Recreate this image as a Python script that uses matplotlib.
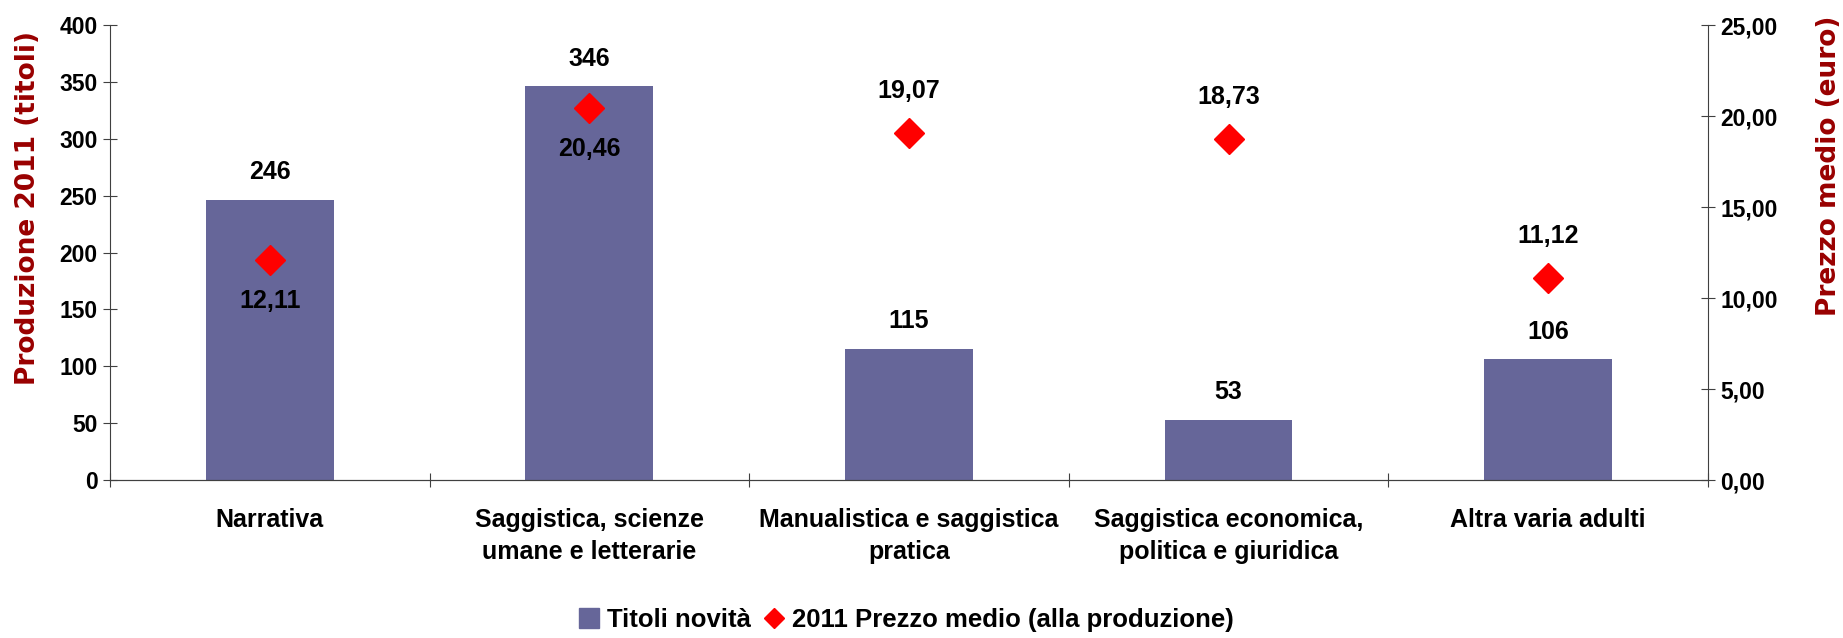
import matplotlib.pyplot as plt
import numpy as np
from matplotlib.ticker import FixedLocator, FuncFormatter

# Dati
categorie = ['Narrativa', 'Saggistica, scienze\numane e letterarie',
             'Manualistica e saggistica\npratica', 'Saggistica economica,\npolitica e giuridica',
             'Altra varia adulti']
titoli = [246, 346, 115, 53, 106]
prezzi = [12.11, 20.46, 19.07, 18.73, 11.12]
# posizione etichetta prezzo: sotto (-1) o sopra (+1) il marker
pos_prezzo = [-1, -1, 1, 1, 1]

bar_color = '#666699'
red_dark = '#990000'
plt.rcParams['font.family'] = ['Liberation Sans', 'DejaVu Sans']
plt.rcParams['font.weight'] = 'bold'

fig = plt.figure(figsize=(18.43, 6.38), dpi=100)
ax = fig.add_axes([0.0597, 0.2476, 0.867, 0.7132])
ax2 = ax.twinx()

x = np.arange(len(categorie))
bars = ax.bar(x, titoli, width=0.40, color=bar_color, zorder=2)
ax2.plot(x, prezzi, linestyle='none', marker='D', markersize=15, color='red', zorder=3)

ax.set_xlim(-0.5, len(categorie) - 0.5)
ax.set_ylim(0, 400)
ax.set_yticks(np.arange(0, 401, 50))
ax2.set_ylim(0, 25)
ax2.set_yticks(np.arange(0, 26, 5))
ax2.yaxis.set_major_formatter(FuncFormatter(lambda v, p: f'{v:.2f}'.replace('.', ',')))

# tacche asse x ai confini delle categorie, etichette al centro
ax.xaxis.set_major_locator(FixedLocator(np.arange(-0.5, len(categorie), 1.0)))
ax.xaxis.set_major_formatter(FuncFormatter(lambda v, p: ''))
ax.xaxis.set_minor_locator(FixedLocator(x))
ax.set_xticklabels(categorie, minor=True, linespacing=1.45)
ax.tick_params(axis='x', which='minor', length=0, pad=20, labelsize=18)
ax.tick_params(axis='x', which='major', direction='inout', length=10, color='#404040')
ax.tick_params(axis='y', direction='inout', length=10, labelsize=16.5, color='#404040', pad=4)
ax2.tick_params(axis='y', direction='inout', length=10, labelsize=16.5, color='#404040', pad=4)
for lab in ax.get_xticklabels(minor=True):
    lab.set_fontweight('bold')
for lab in ax.get_yticklabels() + ax2.get_yticklabels():
    lab.set_fontweight('bold')

for a in (ax, ax2):
    a.spines['top'].set_visible(False)
    for s in ('left', 'right', 'bottom'):
        a.spines[s].set_color('#404040')
ax2.spines['left'].set_visible(False)
ax.spines['right'].set_visible(False)

ax.set_ylabel('Produzione 2011 (titoli)', color=red_dark, fontsize=19, fontweight='bold',
              family='DejaVu Sans')
ax.yaxis.set_label_coords(-0.0432, 0.598)
ax2.set_ylabel('Prezzo medio (euro)', color=red_dark, fontsize=19, fontweight='bold',
               family='DejaVu Sans')
ax2.yaxis.set_label_coords(1.0676, 0.69)

# etichette valori
for xi, v in zip(x, titoli):
    ax.annotate(str(v), (xi, v), xytext=(0, 20), textcoords='offset points',
                ha='center', va='center', fontsize=18, fontweight='bold')
for xi, v, s in zip(x, prezzi, pos_prezzo):
    ax2.annotate(f'{v:.2f}'.replace('.', ','), (xi, v), xytext=(0, 30 * s), textcoords='offset points',
                 ha='center', va='center', fontsize=18, fontweight='bold')

# legenda
h1 = plt.Rectangle((0, 0), 1, 1, color=bar_color)
h2 = plt.Line2D([], [], linestyle='none', marker='D', markersize=10, color='red')
fig.legend([h1, h2], ['Titoli novità', '2011 Prezzo medio (alla produzione)'],
           loc='center', bbox_to_anchor=(0.4918, 0.028), ncol=2, frameon=False,
           prop={'size': 18.5, 'weight': 'bold'}, handlelength=0.8, handleheight=0.8,
           handletextpad=0.3, columnspacing=0.5)

fig.savefig('out.png', dpi=100)
